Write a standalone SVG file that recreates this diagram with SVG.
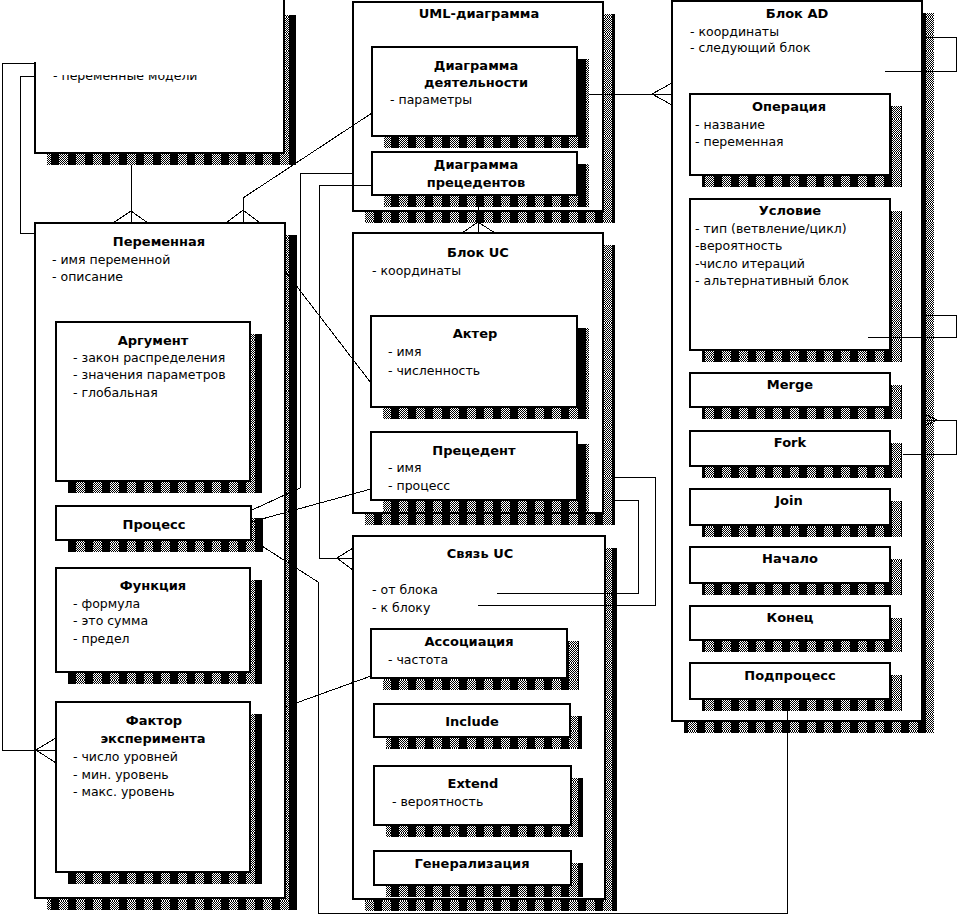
<svg xmlns="http://www.w3.org/2000/svg" width="958" height="914" viewBox="0 0 958 914">
<defs>
<pattern id="chk" width="2" height="2" patternUnits="userSpaceOnUse"><rect width="2" height="2" fill="#fff"/><rect width="1" height="1" fill="#000"/><rect x="1" y="1" width="1" height="1" fill="#000"/></pattern>
<pattern id="sh" width="17" height="17" patternUnits="userSpaceOnUse"><rect width="17" height="17" fill="url(#chk)"/><rect width="8" height="17" fill="#000"/></pattern>
<clipPath id="tlclip"><rect x="36" y="75" width="240" height="30"/></clipPath>
</defs>
<style>
*{shape-rendering:crispEdges}
.box{fill:#fff;stroke:#000;stroke-width:2}
.sh{fill:url(#sh)}
text{font-family:"DejaVu Sans",Verdana,sans-serif;font-size:12.5px;fill:#000}
.b{font-weight:bold;font-size:13px;text-anchor:middle}
.c{fill:none;stroke:#000;stroke-width:1}
</style>
<rect width="958" height="914" fill="#fff"/>

<g id="tl-box">
<path class="sh" d="M284,15 H296 V165 H47 V153 H284Z"/>
<rect x="35" y="0" width="249" height="153" fill="#fff"/>
<path d="M35,62 V153 H284 V0" fill="none" stroke="#000" stroke-width="2"/>
<text x="53" y="80" clip-path="url(#tlclip)">- переменные модели</text>
</g>

<g id="peremennaya">
<path class="sh" d="M285,235 H297 V910 H47 V898 H285Z"/>
<rect class="box" x="35" y="223" width="250" height="675"/>
<text class="b" x="159" y="246">Переменная</text>
<text x="52" y="264">- имя переменной</text>
<text x="52" y="281">- описание</text>
</g>
<g id="argument">
<path class="sh" d="M250,334 H262 V493 H68 V481 H250Z"/>
<rect class="box" x="56" y="322" width="194" height="159"/>
<text class="b" x="153" y="345">Аргумент</text>
<text x="73" y="362">- закон распределения</text>
<text x="73" y="379">- значения параметров</text>
<text x="73" y="397">- глобальная</text>
</g>
<g id="process">
<path class="sh" d="M251,518 H263 V552 H68 V540 H251Z"/>
<rect class="box" x="56" y="506" width="195" height="34"/>
<text class="b" x="154" y="529">Процесс</text>
</g>
<g id="funkciya">
<path class="sh" d="M250,580 H262 V684 H68 V672 H250Z"/>
<rect class="box" x="56" y="568" width="194" height="104"/>
<text class="b" x="153" y="590">Функция</text>
<text x="73" y="608">- формула</text>
<text x="73" y="625">- это сумма</text>
<text x="73" y="643">- предел</text>
</g>
<g id="faktor">
<path class="sh" d="M250,714 H262 V884 H68 V872 H250Z"/>
<rect class="box" x="56" y="702" width="194" height="170"/>
<text class="b" x="154" y="725">Фактор</text>
<text class="b" x="153" y="743">эксперимента</text>
<text x="73" y="761">- число уровней</text>
<text x="73" y="779">- мин. уровень</text>
<text x="73" y="796">- макс. уровень</text>
</g>

<g id="uml">
<path class="sh" d="M603,14 H615 V223 H365 V211 H603Z"/>
<rect class="box" x="353" y="2" width="250" height="209"/>
<text class="b" x="479" y="18">UML-диаграмма</text>
</g>
<g id="diag-deyat">
<path class="sh" d="M577,59 H589 V148 H384 V136 H577Z"/>
<rect class="box" x="372" y="47" width="205" height="89"/>
<text class="b" x="476" y="70">Диаграмма</text>
<text class="b" x="476" y="87">деятельности</text>
<text x="390" y="104">- параметры</text>
</g>
<g id="diag-prec">
<path class="sh" d="M577,164 H589 V207 H384 V195 H577Z"/>
<rect class="box" x="372" y="152" width="205" height="43"/>
<text class="b" x="476" y="169">Диаграмма</text>
<text class="b" x="476" y="187">прецедентов</text>
</g>

<g id="blok-uc">
<path class="sh" d="M603,245 H615 V525 H365 V513 H603Z"/>
<rect class="box" x="353" y="233" width="250" height="280"/>
<text class="b" x="478" y="257">Блок UC</text>
<text x="372" y="275">- координаты</text>
</g>
<g id="akter">
<path class="sh" d="M577,328 H589 V419 H383 V407 H577Z"/>
<rect class="box" x="371" y="316" width="206" height="91"/>
<text class="b" x="475" y="338">Актер</text>
<text x="388" y="356">- имя</text>
<text x="388" y="375">- численность</text>
</g>
<g id="precedent">
<path class="sh" d="M577,444 H589 V512 H383 V500 H577Z"/>
<rect class="box" x="371" y="432" width="206" height="68"/>
<text class="b" x="474" y="455">Прецедент</text>
<text x="388" y="472">- имя</text>
<text x="388" y="490">- процесс</text>
</g>

<g id="svyaz-uc">
<path class="sh" d="M605,548 H617 V911 H365 V899 H605Z"/>
<rect class="box" x="353" y="536" width="252" height="363"/>
<text class="b" x="480" y="558">Связь UC</text>
<text x="372" y="594">- от блока</text>
<text x="372" y="612">- к блоку</text>
</g>
<g id="associaciya">
<path class="sh" d="M567,641 H579 V690 H383 V678 H567Z"/>
<rect class="box" x="371" y="629" width="196" height="49"/>
<text class="b" x="469" y="646">Ассоциация</text>
<text x="388" y="664">- частота</text>
</g>
<g id="include">
<path class="sh" d="M570,716 H582 V749 H386 V737 H570Z"/>
<rect class="box" x="374" y="704" width="196" height="33"/>
<text class="b" x="472" y="726">Include</text>
</g>
<g id="extend">
<path class="sh" d="M571,778 H583 V837 H386 V825 H571Z"/>
<rect class="box" x="374" y="766" width="197" height="59"/>
<text class="b" x="473" y="788">Extend</text>
<text x="392" y="806">- вероятность</text>
</g>
<g id="generalizaciya">
<path class="sh" d="M571,863 H583 V897 H386 V885 H571Z"/>
<rect class="box" x="374" y="851" width="197" height="34"/>
<text class="b" x="472" y="868">Генерализация</text>
</g>

<g id="blok-ad">
<path class="sh" d="M922,13 H934 V733 H684 V721 H922Z"/>
<rect class="box" x="672" y="1" width="250" height="720"/>
<text class="b" x="797" y="18">Блок AD</text>
<text x="690" y="36">- координаты</text>
<text x="690" y="52">- следующий блок</text>
</g>
<g id="operaciya">
<path class="sh" d="M890,106 H902 V187 H702 V175 H890Z"/>
<rect class="box" x="690" y="94" width="200" height="81"/>
<text class="b" x="789" y="111">Операция</text>
<text x="695" y="129">- название</text>
<text x="695" y="146">- переменная</text>
</g>
<g id="uslovie">
<path class="sh" d="M890,211 H902 V362 H702 V350 H890Z"/>
<rect class="box" x="690" y="199" width="200" height="151"/>
<text class="b" x="790" y="215">Условие</text>
<text x="695" y="233">- тип (ветвление/цикл)</text>
<text x="695" y="250">-вероятность</text>
<text x="695" y="268">-число итераций</text>
<text x="695" y="285">- альтернативный блок</text>
</g>
<g id="merge">
<path class="sh" d="M890,385 H902 V419 H702 V407 H890Z"/>
<rect class="box" x="690" y="373" width="200" height="34"/>
<text class="b" x="790" y="389">Merge</text>
</g>
<g id="fork">
<path class="sh" d="M890,443 H902 V478 H702 V466 H890Z"/>
<rect class="box" x="690" y="431" width="200" height="35"/>
<text class="b" x="790" y="447">Fork</text>
</g>
<g id="join">
<path class="sh" d="M890,501 H902 V537 H702 V525 H890Z"/>
<rect class="box" x="690" y="489" width="200" height="36"/>
<text class="b" x="789" y="505">Join</text>
</g>
<g id="nachalo">
<path class="sh" d="M890,559 H902 V595 H702 V583 H890Z"/>
<rect class="box" x="690" y="547" width="200" height="36"/>
<text class="b" x="790" y="563">Начало</text>
</g>
<g id="konec">
<path class="sh" d="M890,618 H902 V652 H702 V640 H890Z"/>
<rect class="box" x="690" y="606" width="200" height="34"/>
<text class="b" x="790" y="622">Конец</text>
</g>
<g id="podprocess">
<path class="sh" d="M890,675 H902 V711 H702 V699 H890Z"/>
<rect class="box" x="690" y="663" width="200" height="36"/>
<text class="b" x="790" y="680">Подпроцесс</text>
</g>

<g id="connectors" class="c">
<path class="c" d="M131,165 V223 M113,223 L131,211 L148,223"/>
<path class="c" d="M372,113 L243,198 V223 M226,223 L243,210 L260,223"/>
<path class="c" d="M35,76 H20 V233 H35"/>
<path class="c" d="M35,63 H2 V750 H56 M56,738 L36,750 L56,763"/>
<path class="c" d="M353,173 H300 V488 L252,510"/>
<path class="c" d="M372,185 H319 V558 H353 M353,548 L337,558 L353,570"/>
<path class="c" d="M285,271 L371,383"/>
<path class="c" d="M251,522 L371,489"/>
<path class="c" d="M251,539 L318,582 V913 H787 V699"/>
<path class="c" d="M285,707 L371,676"/>
<path class="c" d="M478,195 V233 M462,233 L478,222 L495,233"/>
<path class="c" d="M589,94 H672 M672,83 L652,94 L672,105"/>
<path class="c" d="M885,71 H956 V37 H922"/>
<path class="c" d="M868,337 H956 V315 H922"/>
<path class="c" d="M903,454 H956 V420 H922 M922,413 L937,420 L922,427"/>
<path class="c" d="M615,477 H655 V605 H478"/>
<path class="c" d="M615,500 H638 V593 H497"/>
</g>
</svg>
